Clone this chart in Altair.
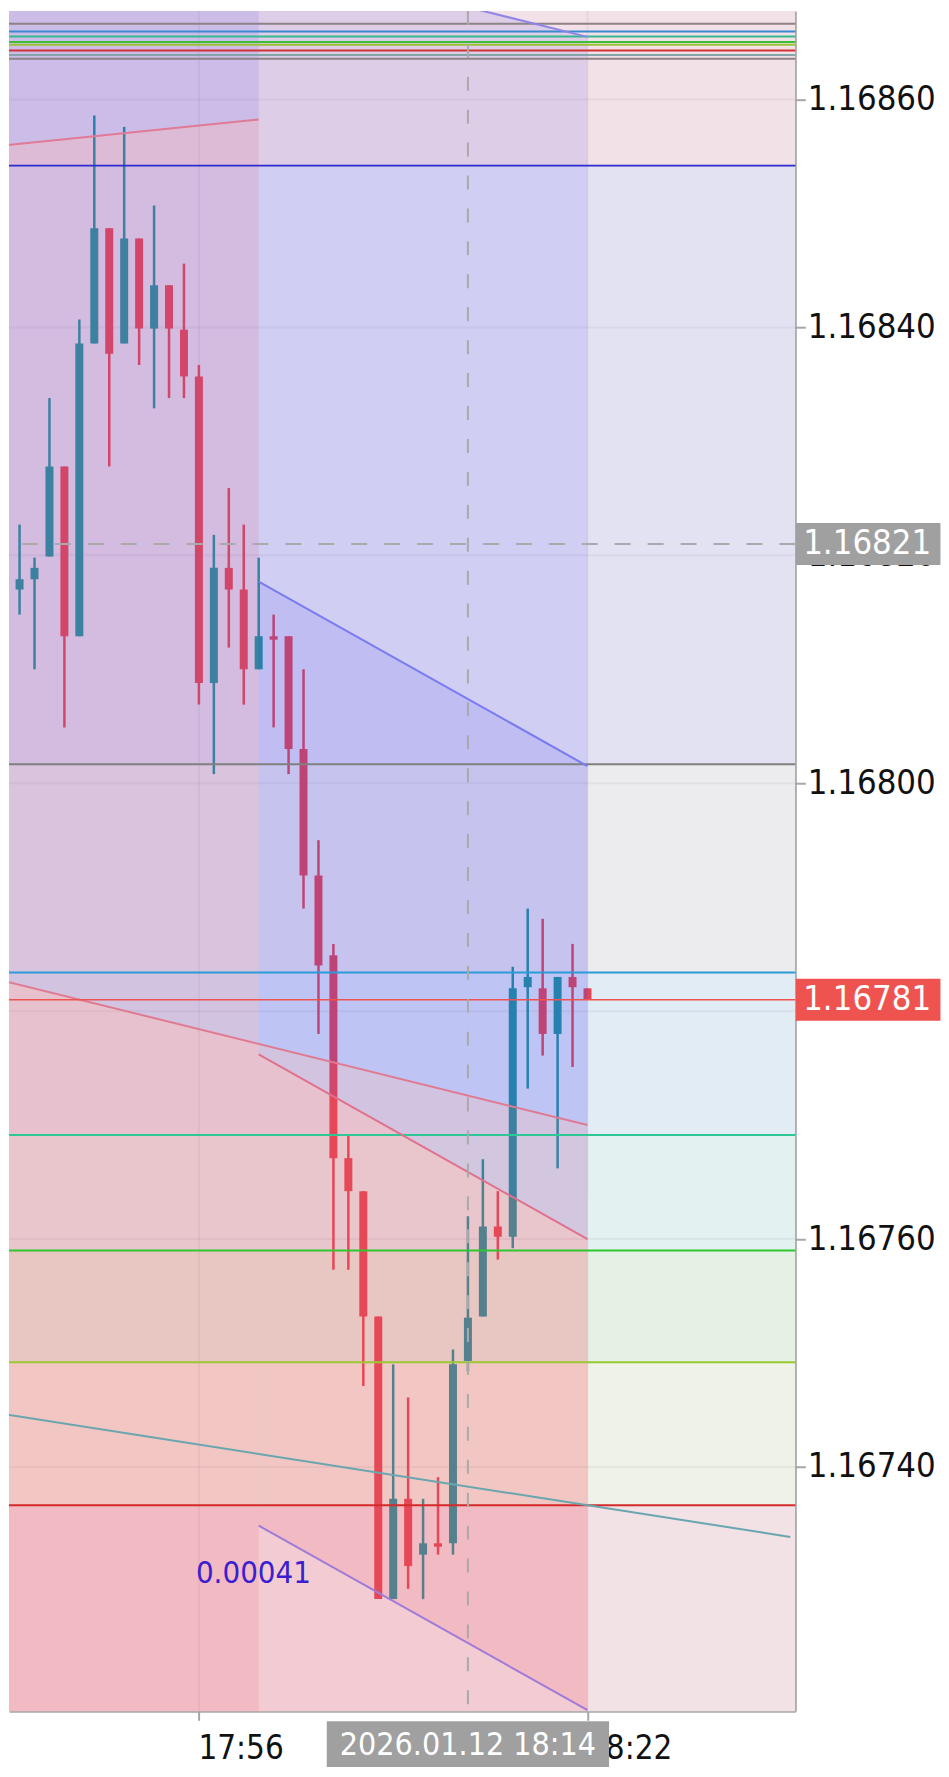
import altair as alt
import pandas as pd

FONT = "DejaVu Sans Condensed, DejaVu Sans"

# ---------------- data ----------------
# time = minutes since midnight (1064 = 17:44)
candle_t = list(range(1064, 1103))
candle_open = [1.168170, 1.168179, 1.168199, 1.168278, 1.168129, 1.168386, 1.168487, 1.168386,
               1.168478, 1.168399, 1.168437, 1.168398, 1.168357, 1.168088, 1.168189, 1.168170,
               1.168100, 1.168129, 1.168129, 1.168030, 1.167919, 1.167849, 1.167671, 1.167642,
               1.167532, 1.167284, 1.167372, 1.167323, 1.167333, 1.167333, 1.167493, 1.167532,
               1.167611, 1.167602, 1.167821, 1.167820, 1.167780, 1.167830, 1.167820]
candle_high = [1.168227, 1.168198, 1.168338, 1.168278, 1.168407, 1.168586, 1.168487, 1.168576,
               1.168478, 1.168507, 1.168437, 1.168456, 1.168367, 1.168218, 1.168259, 1.168227,
               1.168198, 1.168148, 1.168129, 1.168100, 1.167950, 1.167859, 1.167691, 1.167642,
               1.167532, 1.167490, 1.167461, 1.167372, 1.167391, 1.167503, 1.167620, 1.167670,
               1.167642, 1.167839, 1.167890, 1.167881, 1.167830, 1.167859, 1.167820]
candle_low = [1.168148, 1.168100, 1.168199, 1.168049, 1.168129, 1.168386, 1.168278, 1.168386,
              1.168367, 1.168329, 1.168338, 1.168338, 1.168069, 1.168008, 1.168119, 1.168069,
              1.168100, 1.168049, 1.168008, 1.167890, 1.167780, 1.167573, 1.167573, 1.167471,
              1.167284, 1.167284, 1.167293, 1.167284, 1.167323, 1.167323, 1.167484, 1.167532,
              1.167582, 1.167592, 1.167732, 1.167761, 1.167662, 1.167751, 1.167810]
candle_close = [1.168179, 1.168189, 1.168278, 1.168129, 1.168386, 1.168487, 1.168377, 1.168478,
                1.168399, 1.168437, 1.168399, 1.168357, 1.168088, 1.168189, 1.168170, 1.168100,
                1.168129, 1.168126, 1.168030, 1.167919, 1.167840, 1.167671, 1.167642, 1.167532,
                1.167284, 1.167372, 1.167313, 1.167333, 1.167330, 1.167490, 1.167531, 1.167611,
                1.167602, 1.167820, 1.167830, 1.167780, 1.167830, 1.167821, 1.167810]

# Fibonacci levels (main set) and their band boundaries
fib_prices = [1.168542, 1.1680166, 1.167834, 1.1676914, 1.167590, 1.1674918, 1.1673663]
band_top = [1.16875, 1.168542, 1.1680166, 1.167834, 1.1676914, 1.167590, 1.1674918, 1.1673663]
band_bot = [1.168542, 1.1680166, 1.167834, 1.1676914, 1.167590, 1.1674918, 1.1673663, 1.16710]

# small compressed level set at the top
cluster_prices = [1.1686666, 1.1686596, 1.1686553, 1.1686504, 1.1686480, 1.1686430, 1.1686390, 1.1686357]

# channels / trend lines: (start time, start price, end time, end price)
line_names = ["top_mid", "long_mid", "long_up", "long_lo", "mid_up", "mid_mid", "mid_lo", "teal"]
line_t0 = [1063, 1063, 1063, 1063, 1080, 1080, 1080, 1063.1]
line_p0 = [1.1685597, 1.1678263, 1.1687820, 1.1668700, 1.1681770, 1.1677620, 1.1673485, 1.1674460]
line_t1 = [1080, 1102, 1102, 1102, 1102, 1102, 1102, 1115.57]
line_p1 = [1.1685825, 1.1677000, 1.1686550, 1.1667450, 1.1680150, 1.1676000, 1.1671865, 1.1673386]

current_price = 1.16781
cross_time = 1094
cross_price = 1.16821
cross_time_text = "2026.01.12 18:14"
measure_text = "0.00041"
measure_t = 1076
measure_p = 1.167298

y_label_ticks = [1.1674, 1.1676, 1.1680, 1.1682, 1.1684, 1.1686]
y_grid = [1.1674, 1.1676, 1.1678, 1.1680, 1.1682, 1.1684, 1.1686]
x_ticks = [1076, 1102]

# ---------------- styles ----------------
BULL = "#1C949E"
BEAR = "#E14655"
BLUE_TINT = "rgba(76,63,240,0.12)"
PINK_TINT = "rgba(250,80,100,0.14)"
fib_colors = ["#2B2BD0", "#808080", "#2A9AD8", "#2EC896", "#2EC82E", "#9AC832", "#D42A2A"]
band_colors = ["#F2E1E6", "#E3E2F3", "#ECECEF", "#E2ECF5", "#E3F1F1", "#E4F1E4", "#EFF2E6", "#F2E1E5"]
cluster_colors = ["#8E8286", "#3A8AD0", "#36B890", "#3CBE3C", "#9CC232", "#D03434", "#84A4AA", "#8E8286"]
line_colors = ["#E07A95", "#E07A90", "#8F85E8", "#8F85E8", "#7A7AF2", "#E0708E", "#A07AD8", "#6AA6B0"]
GRID = "rgba(110,90,130,0.08)"
AXIS_GRAY = "#A6A6A6"

W, H = 788, 1704
X_DOMAIN = [1063.627, 1115.572]
Y_DOMAIN = [1.1671856, 1.1686778]

xs = alt.Scale(domain=X_DOMAIN, nice=False, zero=False)
ys = alt.Scale(domain=Y_DOMAIN, nice=False, zero=False)

X_AX = alt.Axis(orient="bottom", values=x_ticks, grid=False,
                labelExpr="floor(datum.value/60) + ':' + (datum.value % 60 < 10 ? '0' : '') + (datum.value % 60)",
                labelAlign="left", labelBaseline="top", labelPadding=12, labelFontSize=33,
                labelFont=FONT, labelColor="#111111", labelFlush=False, labelOverlap=False,
                labelOffset=-1,
                tickSize=9, tickWidth=2, tickColor=AXIS_GRAY, domainColor=AXIS_GRAY, domainWidth=2)
Y_AX = alt.Axis(orient="right", values=y_label_ticks, format=".5f", grid=False,
                labelPadding=2, labelFontSize=34.5, labelFont=FONT, labelColor="#111111",
                labelFlush=False, labelOverlap=False,
                tickSize=10, tickWidth=2, tickColor=AXIS_GRAY, domainColor=AXIS_GRAY, domainWidth=2)


def X(f):
    return alt.X(f + ":Q", scale=xs, axis=X_AX, title=None)


def Y(f):
    return alt.Y(f + ":Q", scale=ys, axis=Y_AX, title=None)


def C(f):
    return alt.Color(f + ":N", scale=None)


# ---------------- tables ----------------
candles = pd.DataFrame({"t": candle_t, "o": candle_open, "h": candle_high,
                        "l": candle_low, "c": candle_close})
candles["col"] = [BULL if c >= o else BEAR for o, c in zip(candle_open, candle_close)]

bands = pd.DataFrame({"top": band_top, "bot": band_bot, "fill": band_colors})
fib = pd.DataFrame({"p": fib_prices, "col": fib_colors})
cluster = pd.DataFrame({"p": cluster_prices, "col": cluster_colors})
lines = pd.DataFrame({"id": line_names, "t0": line_t0, "p0": line_p0,
                      "t1": line_t1, "p1": line_p1, "col": line_colors})

L = {n: (t0, p0, t1, p1) for n, t0, p0, t1, p1 in zip(line_names, line_t0, line_p0, line_t1, line_p1)}
FAR = 0.0019
tint_rows = []


def tint(name, lo_a, lo_b, hi_a, hi_b, t_a, t_b, fill):
    tint_rows.append({"id": name, "t": t_a, "lo": lo_a, "hi": hi_a, "fill": fill})
    tint_rows.append({"id": name, "t": t_b, "lo": lo_b, "hi": hi_b, "fill": fill})


tm = L["top_mid"]
tint("top_up", tm[1], tm[3], tm[1] + FAR, tm[3] + FAR, tm[0], tm[2], BLUE_TINT)
tint("top_dn", tm[1] - FAR, tm[3] - FAR, tm[1], tm[3], tm[0], tm[2], PINK_TINT)
lm, lu, ll = L["long_mid"], L["long_up"], L["long_lo"]
tint("long_up", lm[1], lm[3], lu[1], lu[3], lm[0], lm[2], BLUE_TINT)
tint("long_dn", ll[1], ll[3], lm[1], lm[3], lm[0], lm[2], PINK_TINT)
mm, mu, ml = L["mid_mid"], L["mid_up"], L["mid_lo"]
tint("mid_up", mm[1], mm[3], mu[1], mu[3], mm[0], mm[2], BLUE_TINT)
tint("mid_dn", ml[1], ml[3], mm[1], mm[3], mm[0], mm[2], PINK_TINT)
tints = pd.DataFrame(tint_rows)
drawn_lines = lines[lines["id"] != "long_lo"]

ybox = pd.DataFrame({"p": [cross_price, current_price],
                     "txt": [f"{cross_price:.5f}", f"{current_price:.5f}"],
                     "fill": ["#A0A0A0", "#EF5350"]})
xbox = pd.DataFrame({"t": [cross_time], "txt": [cross_time_text]})
meas = pd.DataFrame({"t": [measure_t], "p": [measure_p], "txt": [measure_text]})

# ---------------- layers ----------------
band_layer = alt.Chart(bands).mark_rect(clip=True).encode(
    x=alt.value(0), x2=alt.value(W), y=Y("top"), y2="bot:Q", color=C("fill"))

grid_h = alt.Chart(pd.DataFrame({"p": y_grid})).mark_rule(color=GRID, strokeWidth=2).encode(y=Y("p"))
grid_v = alt.Chart(pd.DataFrame({"t": x_ticks})).mark_rule(color=GRID, strokeWidth=2).encode(x=X("t"))

wicks = alt.Chart(candles).mark_rule(strokeWidth=2.5).encode(
    x=X("t"), y=Y("l"), y2="h:Q", color=C("col"))
bodies = alt.Chart(candles).mark_bar(size=8).encode(
    x=X("t"), y=Y("o"), y2="c:Q", color=C("col"))

tint_layer = alt.Chart(tints).mark_area(clip=True, opacity=1).encode(
    x=X("t"), y=Y("lo"), y2="hi:Q", color=C("fill"), detail="id:N")

fib_layer = alt.Chart(fib).mark_rule(strokeWidth=2).encode(y=Y("p"), color=C("col"))
cluster_layer = alt.Chart(cluster).mark_rule(strokeWidth=2).encode(y=Y("p"), color=C("col"))
line_layer = alt.Chart(drawn_lines).mark_rule(strokeWidth=2, clip=True).encode(
    x=X("t0"), x2="t1:Q", y=Y("p0"), y2="p1:Q", color=C("col"))

cur_layer = alt.Chart(pd.DataFrame({"p": [current_price]})).mark_rule(
    color="#EF5350", strokeWidth=1.5).encode(y=Y("p"))
cross_h = alt.Chart(pd.DataFrame({"p": [cross_price]})).mark_rule(
    color="#AAAAAA", strokeWidth=2, strokeDash=[16, 17]).encode(y=Y("p"))
cross_v = alt.Chart(pd.DataFrame({"t": [cross_time]})).mark_rule(
    color="#AAAAAA", strokeWidth=2, strokeDash=[14, 19]).encode(x=X("t"))

meas_layer = alt.Chart(meas).mark_text(
    align="left", baseline="alphabetic", fontSize=31, font=FONT, color="#3A1ED0", dx=-3).encode(
    x=X("t"), y=Y("p"), text="txt:N")

YBOX_PATH = "M-3.45,-1L3.45,-1L3.45,1L-3.45,1Z"
XBOX_PATH = "M-6.15,-1L6.15,-1L6.15,1L-6.15,1Z"
ybox_layer = alt.Chart(ybox).mark_point(
    shape=YBOX_PATH, size=1764, filled=True, opacity=1, strokeWidth=0).encode(
    x=alt.value(W + 73), y=Y("p"), color=C("fill"))
ybox_text = alt.Chart(ybox).mark_text(
    align="center", baseline="middle", fontSize=34.5, font=FONT, color="white").encode(
    x=alt.value(W + 72), y=Y("p"), text="txt:N")
xbox_layer = alt.Chart(xbox).mark_point(
    shape=XBOX_PATH, size=2116, filled=True, opacity=1, strokeWidth=0, color="#A0A0A0").encode(
    x=X("t"), y=alt.value(H + 33))
xbox_text = alt.Chart(xbox).mark_text(
    align="center", baseline="middle", fontSize=32, font=FONT, color="white").encode(
    x=X("t"), y=alt.value(H + 34), text="txt:N")

chart = alt.layer(
    band_layer, grid_h, grid_v, wicks, bodies, tint_layer,
    fib_layer, cluster_layer, line_layer, cur_layer, cross_h, cross_v,
    meas_layer, ybox_layer, ybox_text, xbox_layer, xbox_text
).properties(width=W, height=H, padding=0, background="white").configure_view(strokeWidth=0)

chart.save("out.html", embed_options={"renderer": "svg", "actions": False})
